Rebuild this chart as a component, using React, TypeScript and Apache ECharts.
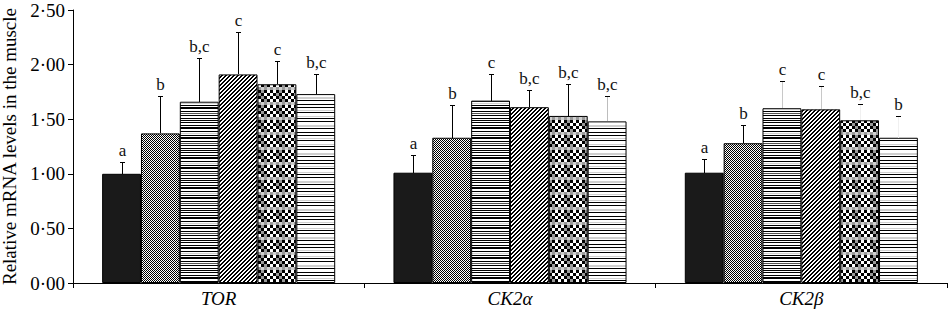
import React, { useEffect, useRef } from 'react';
import * as echarts from 'echarts';

const categories = ['TOR', 'CK2α', 'CK2β'];

// mean relative mRNA levels per treatment (across TOR, CK2α, CK2β)
const mean1 = [1.0, 1.01, 1.01];
const mean2 = [1.37, 1.33, 1.28];
const mean3 = [1.66, 1.67, 1.6];
const mean4 = [1.91, 1.61, 1.59];
const mean5 = [1.82, 1.53, 1.49];
const mean6 = [1.73, 1.48, 1.33];

// standard deviations (upper error bar length)
const sd1 = [0.11, 0.16, 0.13];
const sd2 = [0.34, 0.3, 0.17];
const sd3 = [0.4, 0.24, 0.25];
const sd4 = [0.39, 0.16, 0.21];
const sd5 = [0.21, 0.29, 0.15];
const sd6 = [0.18, 0.23, 0.2];

// significance letters
const letters1 = ['a', 'a', 'a'];
const letters2 = ['b', 'b', 'b'];
const letters3 = ['b,c', 'c', 'c'];
const letters4 = ['c', 'b,c', 'c'];
const letters5 = ['c', 'b,c', 'b,c'];
const letters6 = ['b,c', 'b,c', 'b'];

const means = [mean1, mean2, mean3, mean4, mean5, mean6];
const sds = [sd1, sd2, sd3, sd4, sd5, sd6];
const letters = [letters1, letters2, letters3, letters4, letters5, letters6];

// stem colours of the error bars (style)
const stemColors = [
  ['#000', '#000', '#000'],
  ['#000', '#000', '#000'],
  ['#000', '#000', '#c8c8c8'],
  ['#000', '#000', '#c8c8c8'],
  ['#000', '#000', '#f0f0f0'],
  ['#000', '#bdbdbd', '#f0f0f0'],
];

const FONT = 'Liberation Serif';

function makePattern(rows: string[]) {
  const h = rows.length;
  const w = rows[0].length;
  const c = document.createElement('canvas');
  c.width = w;
  c.height = h;
  const ctx = c.getContext('2d')!;
  const cols: Record<string, string> = { '#': '#000', '.': '#fff', '+': '#9a9a9a', '-': '#555', '=': '#cfcfcf' };
  for (let y = 0; y < h; y++) {
    for (let x = 0; x < w; x++) {
      ctx.fillStyle = cols[rows[y][x]] || '#fff';
      ctx.fillRect(x, y, 1, 1);
    }
  }
  return { image: c.toDataURL(), repeat: 'repeat', imageWidth: w, imageHeight: h } as any;
}

function buildPatterns() {
  const dither = makePattern(['#.', '.#']);
  const hlines = makePattern([
    '####', '....', '####', '....', '....', '####', '....', '####', '####', '....',
    '....', '####', '....', '====', '....', '####', '....', '####', '####', '....',
    '....', '####', '....', '----', '....', '####', '....', '....', '####', '....',
  ]);
  const diag = makePattern(['##..', '#..#', '..##', '.##.']);
  const checker = makePattern([
    '###...###+++###...',
    '###...###+++###...',
    '###...###+++###...',
    '...###+++###...###',
    '...###+++###...###',
    '...###+++###...###',
    '###...###+++###...',
    '###...###+++###...',
    '###...###+++###...',
    '...###...###+++###',
    '...###...###+++###',
    '...###...###+++###',
    '+++===+++===+++===',
    '+++===+++===+++===',
    '+++===+++===+++===',
  ]);
  const sparse = makePattern([
    '####', '....', '....', '....', '====', '....', '####', '....', '....', '####',
    '....', '....', '....', '====', '====', '....', '####', '....', '....', '....',
    '####', '....', '....', '####', '....', '....', '====', '....',
  ]);
  return ['#1a1a1a', dither, hlines, diag, checker, sparse];
}

export default function App() {
  const ref = useRef<HTMLDivElement>(null);
  useEffect(() => {
    if (!ref.current) return;
    const chart = echarts.init(ref.current, undefined, { renderer: 'svg' });
    const patterns = buildPatterns();

    const barSeries = means.map((m, i) => ({
      type: 'bar',
      name: 'T' + (i + 1),
      data: m,
      barGap: '0%',
      barCategoryGap: '20%',
      itemStyle: { color: patterns[i], borderColor: '#000', borderWidth: 1 },
      silent: true,
    }));

    const errData: number[][] = [];
    means.forEach((m, i) => {
      m.forEach((v, j) => {
        errData.push([j, i, v + sds[i][j], v]);
      });
    });

    const errSeries = {
      type: 'custom',
      z: 10,
      silent: true,
      encode: { x: 0, y: 2 },
      data: errData,
      renderItem: (params: any, api: any) => {
        const j = api.value(0);
        const i = api.value(1);
        const top = api.value(2);
        const m = api.value(3);
        const band = api.size([1, 0])[0];
        const bw = (band * 0.8) / 6;
        const c0 = api.coord([j, top]);
        const c1 = api.coord([j, m]);
        const x = Math.round(c0[0] - band * 0.4 + (i + 0.5) * bw) + 0.5;
        const yTop = Math.round(c0[1]) + 0.5;
        const yBar = Math.round(c1[1]);
        return {
          type: 'group',
          children: [
            {
              type: 'line',
              shape: { x1: x, y1: yBar, x2: x, y2: yTop },
              style: { stroke: stemColors[i][j], lineWidth: 1 },
            },
            {
              type: 'line',
              shape: { x1: x - 2.5, y1: yTop, x2: x + 2.5, y2: yTop },
              style: { stroke: '#000', lineWidth: 1 },
            },
            {
              type: 'text',
              style: {
                text: letters[i][j],
                x: x,
                y: yTop - 4,
                align: 'center',
                verticalAlign: 'bottom',
                fill: '#111',
                fontSize: 17,
                fontFamily: FONT,
              },
            },
          ],
        };
      },
    };

    chart.setOption({
      animation: false,
      backgroundColor: '#fff',
      grid: { left: 73, right: 2, top: 10, bottom: 29, containLabel: false, outerBoundsMode: 'none' },
      xAxis: {
        type: 'category',
        data: categories,
        axisLine: { lineStyle: { color: '#000', width: 1 } },
        axisTick: { show: true, length: 5, lineStyle: { color: '#000' } },
        axisLabel: {
          color: '#000',
          fontFamily: FONT,
          fontStyle: 'italic',
          fontSize: 19,
          margin: 6,
        },
      },
      yAxis: {
        type: 'value',
        min: 0,
        max: 2.5,
        interval: 0.5,
        name: 'Relative mRNA levels in the muscle',
        nameLocation: 'middle',
        nameGap: 52,
        nameTextStyle: { color: '#000', fontFamily: FONT, fontSize: 19 },
        axisLine: { show: true, lineStyle: { color: '#000', width: 1 } },
        axisTick: { show: true, length: 5, lineStyle: { color: '#000' } },
        splitLine: { show: false },
        axisLabel: {
          color: '#000',
          fontFamily: FONT,
          fontSize: 19,
          margin: 8,
          formatter: (v: number) => v.toFixed(2).replace('.', '·'),
        },
      },
      series: [...barSeries, errSeries],
    } as any);
    return () => chart.dispose();
  }, []);
  return (
    <div
      ref={ref}
      style={{ position: 'fixed', left: 0, top: 0, width: 949, height: 312, background: '#fff' }}
    />
  );
}
